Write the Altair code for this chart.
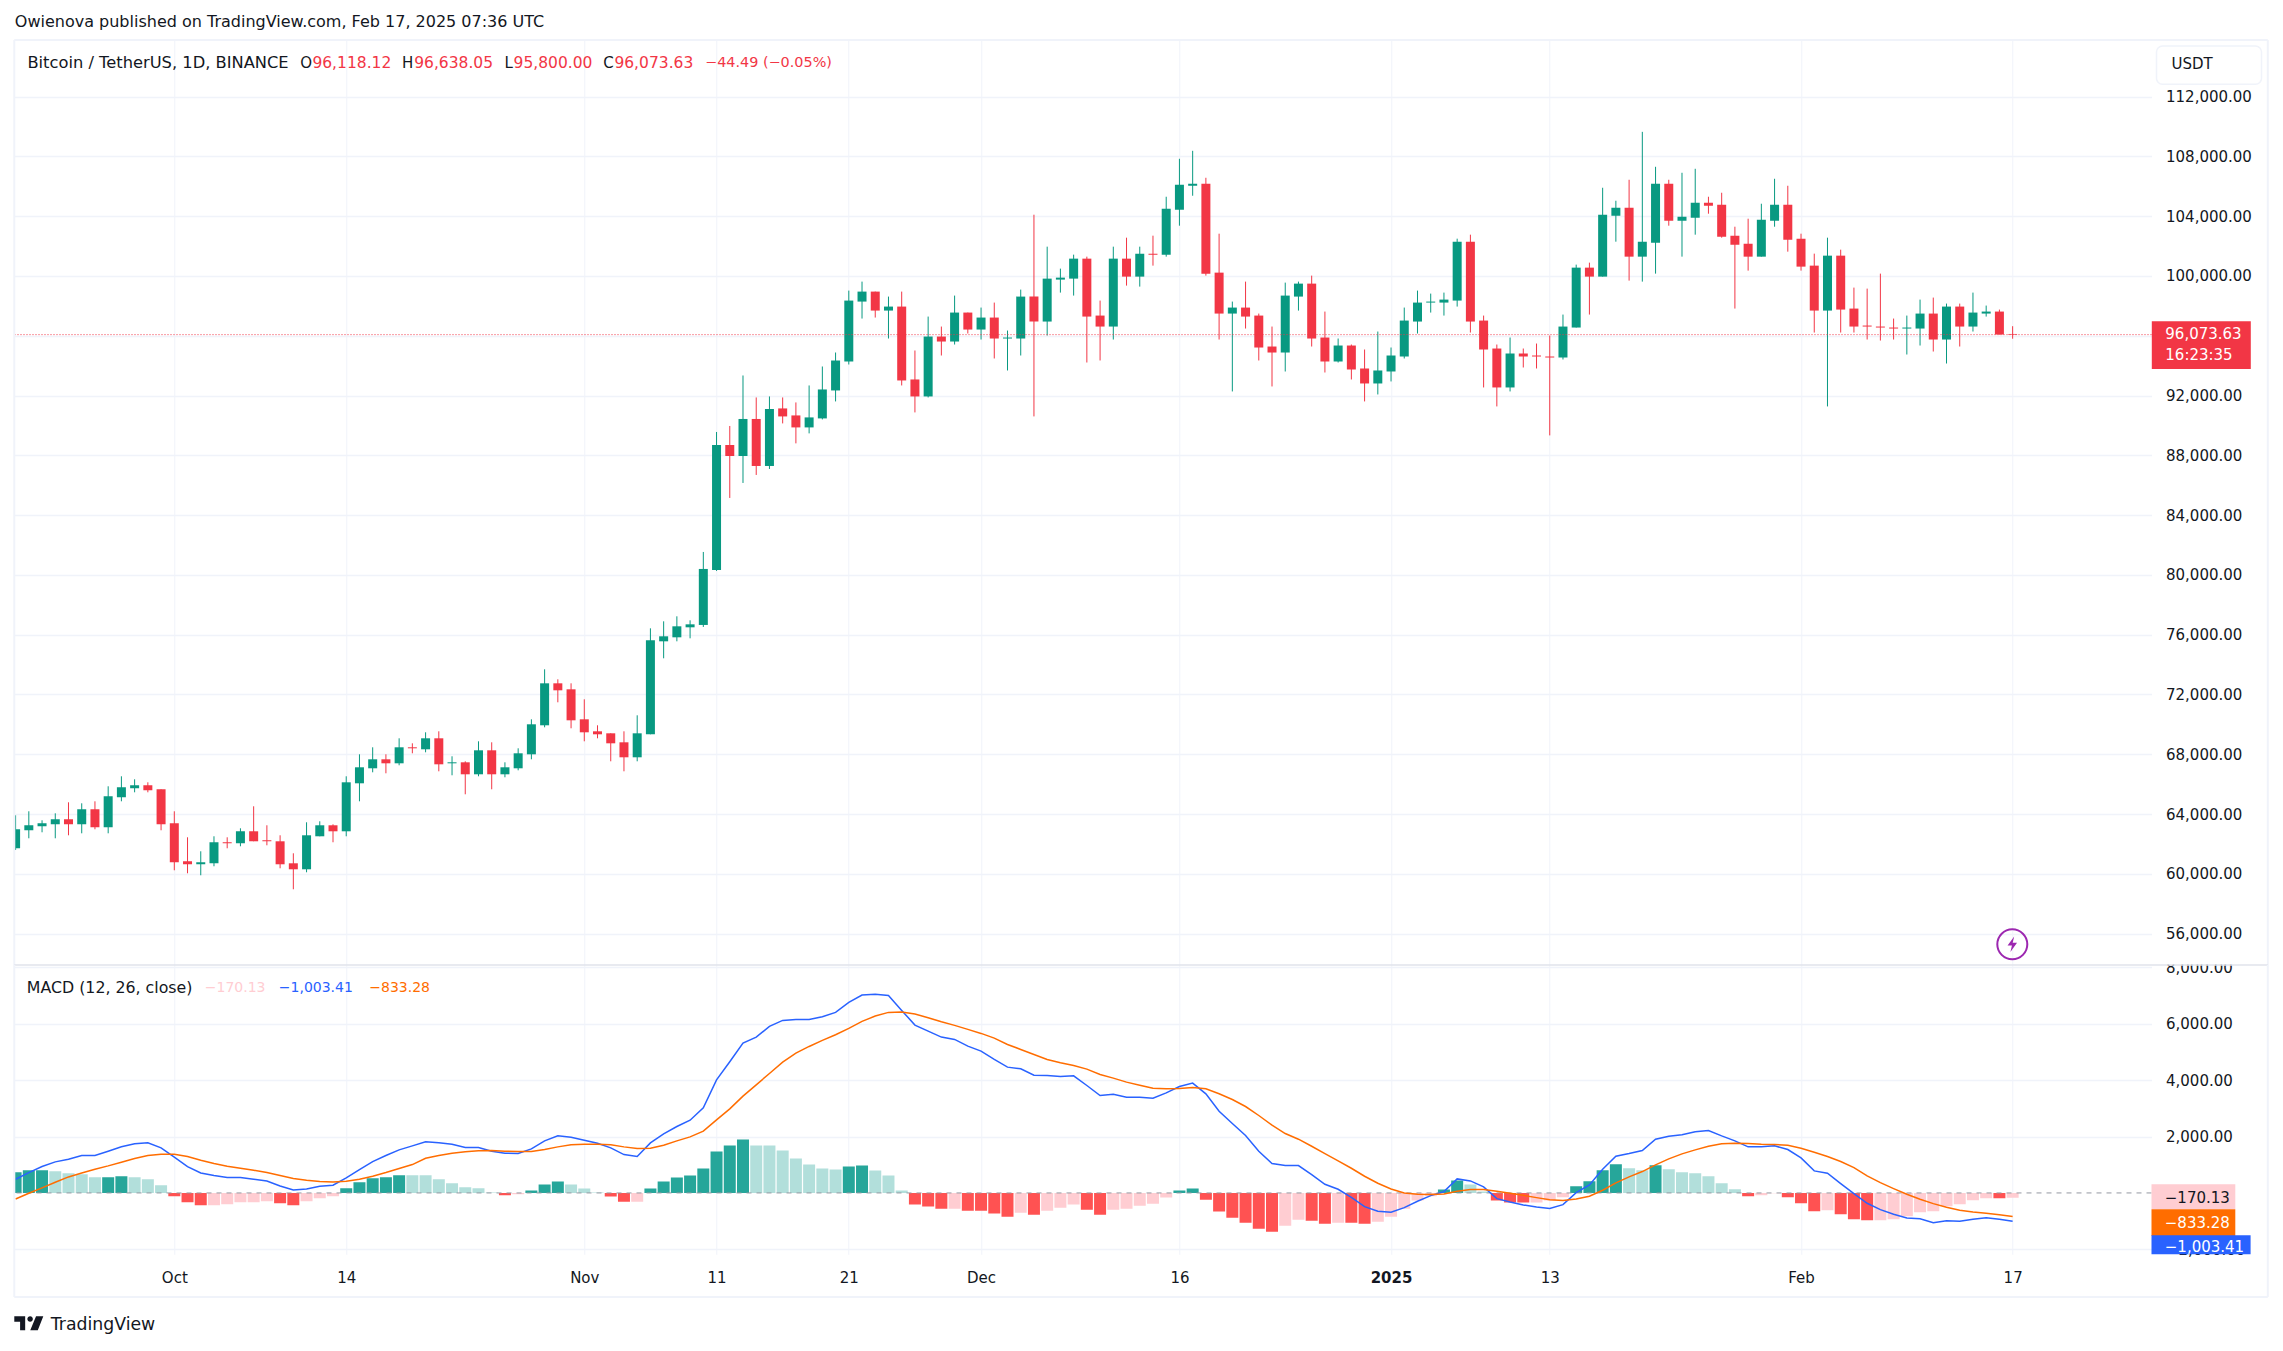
import altair as alt
import pandas as pd

# ---------- daily candles, 2024-09-19 .. 2025-02-17 ----------
opens = [61706,62910,63178,63311,63646,63311,64315,63111,65118,65720,65921,65653,
 63378,60836,60636,60702,62108,62040,62843,62241,62174,60702,60301,62509,63245,62843,66054,67058,67660,67392,68463,68329,69065,67392,67459,66657,68262,66657,67058,67994,69935,72744,72343,
 70336,69533,69399,68797,67794,69333,75554,75822,76491,76649,80329,88691,87955,90431,87286,91136,90668,89866,90468,92339,94276,98285,98953,97683,97951,93074,91938,95946,95612,97550,
 96414,97216,95813,95813,98619,96949,99755,99821,101158,97349,96614,101158,99955,101492,101425,104431,106035,106168,100222,97483,97884,97349,95278,94877,98619,99487,95880,94276,95345,93808,92806,
 93608,94610,96949,98218,98218,98352,102293,97015,95144,92539,94811,94677,94610,94543,96548,100556,99955,104030,104565,101291,102227,106168,103696,103897,104899,104765,102694,102160,101291,103696,104765,
 102494,100690,97683,101358,97817,96681,96614,96548,96481,96481,97483,95746,97951,96614,97483,97617,96118.12]
highs = [63914,64181,63579,64047,64783,64716,64850,65854,66523,66322,66121,65653,
 64181,62442,61505,62509,62442,63044,64516,63245,62576,61371,63445,63512,63311,66523,67994,68463,67994,69065,68730,69466,69533,67861,67526,68864,68797,67459,68396,70336,73681,73012,72744,
 71674,69935,69399,69533,70604,76424,76892,77227,76959,81533,89561,89962,93341,91871,91938,91871,91537,92673,93942,94878,99020,99621,98953,98619,98953,95011,97282,96614,98686,97550,
 97884,98218,96347,99087,104097,101959,100490,101425,101291,98352,101959,102561,101959,102694,105300,107839,108373,106569,102828,98285,99621,97483,96614,99554,99621,100022,97617,95813,95412,95078,96281,
 95212,97884,99020,98819,98886,102494,102761,97349,95412,95880,95144,95478,96013,97416,100757,100890,105901,105032,106436,109642,107304,106436,106903,107170,105300,105567,103295,103830,104832,106502,106035,
 102828,101492,102561,101759,99220,99153,100155,97149,97349,98418,98552,98151,98151,98886,98018,97750,96638.05]
lows = [61594,62375,62776,62375,62576,62709,62977,62709,64850,65452,65452,62910,
 60234,60033,59900,60502,61706,61840,62174,61907,60368,58963,60100,62509,62108,62509,64850,66790,66723,67259,68061,68128,66857,66590,65319,66523,65653,66456,66924,67660,69801,71473,69734,
 68864,69065,67526,66857,67526,69333,74417,75554,75755,76516,80262,85146,86149,86685,87086,90134,88798,89466,90401,91604,94076,97149,97216,95813,92673,90869,91871,94677,95412,96149,
 95746,94477,93675,94677,90602,96013,98886,98686,94209,94343,95746,99354,99287,100690,101291,103362,105367,100022,95746,92272,96481,94343,92606,93608,97683,95278,93541,94209,93073,91604,92071,
 92940,94477,96147,97550,97349,97951,96214,92539,91270,92272,93875,93808,89332,94410,96548,97416,99955,102293,99688,99621,100155,103362,101291,102761,104164,102561,97817,100356,101291,103295,101625,
 100356,96214,91270,96214,96214,95746,95679,95746,94744,95345,94944,94142,95278,96281,97282,96080,95800]
closes = [62977,63245,63378,63646,63311,64315,63111,65185,65787,65921,65586,63311,
 60769,60636,60769,62108,62040,62843,62174,62174,60636,60301,62576,63245,62843,66121,67125,67660,67392,68463,68396,69065,67325,67459,66657,68262,66657,67125,68061,70002,72744,72276,70269,
 69466,69333,68730,67794,69399,75621,75889,76558,76691,80396,88691,87955,90431,87286,91100,90601,89866,90535,92405,94343,98352,98953,97683,97951,93007,91938,95946,95612,97550,96414,
 97216,95813,95880,98619,96949,99821,99888,101158,97282,96614,101158,99955,101492,101425,104498,106102,106168,100155,97483,97884,97282,95211,94877,98686,99487,95813,94276,95345,93741,92806,93675,
 94677,97015,98218,98285,98418,102293,96949,95078,92539,94811,94610,94610,94543,96614,100556,99955,104097,104565,101291,102293,106168,103696,103964,104899,104699,102627,102093,101291,103763,104765,102427,
 100623,97683,101358,97750,96614,96614,96548,96481,96548,97483,95746,97951,96614,97550,97617,96080,96073.63]

# ---------- MACD pane ----------
hist = [734,805,805,770,699,663,556,556,592,556,485,272,
 -118,-331,-438,-438,-403,-331,-331,-296,-367,-438,-296,-189,-118,166,379,521,556,628,628,628,485,343,201,166,12,-83,-47,83,296,402,296,
 154,12,-130,-308,-308,154,402,544,615,864,1467,1680,1893,1680,1680,1502,1218,1006,864,828,935,970,793,615,83,-414,-485,-556,-556,-627,
 -627,-733,-840,-698,-769,-627,-521,-414,-592,-769,-592,-556,-450,-379,-166,83,154,-237,-662,-875,-1053,-1266,-1372,-1159,-946,-982,-1088,-1053,-1053,-1088,-1017,
 -840,-556,-272,-118,118,438,296,47,-272,-343,-343,-343,-272,-154,237,414,805,1017,875,805,982,840,733,698,592,343,130,-118,-83,-12,-154,
 -367,-651,-615,-757,-935,-970,-970,-935,-828,-686,-651,-473,-402,-260,-189,-189,-170.13]
strong = [1,1,1,0,0,0,0,1,1,0,0,0,
 1,1,1,0,0,0,0,0,1,1,0,0,0,1,1,1,1,1,0,0,0,0,0,0,0,1,0,1,1,1,0,
 0,0,1,1,0,1,1,1,1,1,1,1,1,0,0,0,0,0,0,0,1,1,0,0,0,1,1,1,0,1,
 1,1,1,0,1,0,0,0,1,1,0,0,0,0,0,1,1,1,1,1,1,1,1,0,0,1,1,0,1,1,0,
 0,0,0,0,1,1,0,0,1,1,1,0,0,0,1,1,1,1,0,0,1,0,0,0,0,0,0,1,0,0,1,
 1,1,0,1,1,1,0,0,0,0,0,0,0,0,0,1,0]
macd = [485,722,935,1101,1196,1326,1326,1480,1634,1740,1776,1598,
 1267,935,710,616,545,545,485,426,249,107,142,237,272,533,829,1113,1326,1527,1669,1812,1776,1729,1610,1610,1480,1409,1397,1560,1846,2023,1976,
 1869,1763,1597,1361,1290,1775,2094,2354,2579,3017,4010,4649,5312,5525,5903,6116,6152,6152,6246,6400,6755,7015,7039,7003,6471,5951,5738,5525,5442,5205,
 5028,4732,4460,4401,4176,4164,4129,4152,3809,3454,3502,3395,3395,3360,3549,3774,3892,3514,2898,2461,2035,1479,1041,970,970,651,308,130,-154,-485,-651,
 -686,-521,-296,-95,47,497,426,213,-201,-319,-426,-497,-550,-414,12,284,840,1302,1397,1503,1906,2013,2060,2166,2214,2024,1847,1634,1634,1669,1539,
 1243,781,699,332,-24,-367,-592,-758,-888,-912,-1054,-983,-1006,-935,-876,-935,-1003.41]
signal = [-213,-12,178,379,568,710,841,959,1089,1220,1326,1373,
 1373,1291,1160,1042,947,876,805,722,616,509,450,403,391,414,485,592,722,864,1006,1231,1326,1409,1456,1492,1504,1480,1468,1470,1538,1633,1704,
 1727,1727,1704,1633,1573,1585,1692,1845,1987,2189,2591,2981,3431,3833,4235,4637,4957,5193,5406,5607,5832,6081,6270,6400,6412,6341,6211,6069,5939,5797,
 5655,5489,5264,5087,4910,4732,4614,4519,4389,4200,4070,3928,3821,3715,3691,3703,3738,3691,3514,3312,3064,2745,2401,2106,1905,1656,1396,1136,875,592,343,
 142,0,-47,-59,-35,59,118,118,59,-12,-83,-166,-240,-272,-213,-118,95,355,568,758,995,1208,1385,1527,1658,1740,1764,1752,1729,1717,1693,
 1587,1444,1291,1113,900,604,367,154,-47,-225,-379,-509,-616,-675,-722,-769,-833.28]

tick_days = [12,25,43,53,63,73,88,104,116,135,151]
tick_labels = ["Oct","14","Nov","11","21","Dec","16","2025","13","Feb","17"]
price_ticks = list(range(56000,112001,4000))
macd_ticks = [8000,6000,4000,2000,-2000]
last_price = 96073.63

# ---------- geometry of the two panes ----------
L, R, T, DIV, B = 14.5, 2151.7, 40.7, 965.7, 1255.0
FRAME_R, FRAME_B = 2268.0, 1297.7
W = R - L
H1 = DIV - T
H2 = B - DIV
x_dom = [-0.098, 161.5]
p_dom = [53897, 115787]
m_dom = [-2175, 8080]

FONT = "DejaVu Sans"
INK = "#131722"
GRID = "#F0F3FA"
GREEN, RED = "#089981", "#F23645"

n = len(opens)
df = pd.DataFrame({"i": list(range(n)), "open": opens, "high": highs, "low": lows, "close": closes,
                   "hist": hist, "strong": strong, "macd": macd, "signal": signal})
df["dir"] = ["up" if c >= o else "down" for o, c in zip(opens, closes)]
df["hcol"] = [("up" if h >= 0 else "down") + ("1" if s else "0") for h, s in zip(hist, strong)]
one = pd.DataFrame({"a": [0]})

lab_expr = " : ".join(f"datum.value=={d} ? '{t}'" for d, t in zip(tick_days, tick_labels)) + " : ''"
x_sc = alt.Scale(domain=x_dom, nice=False, zero=False, padding=0)
p_sc = alt.Scale(domain=p_dom, nice=False, zero=False)
m_sc = alt.Scale(domain=m_dom, nice=False, zero=False)
candle_col = alt.Color("dir:N", scale=alt.Scale(domain=["up", "down"], range=[GREEN, RED]), legend=None)

def yaxis(values):
    return alt.Axis(orient="right", values=values, format=",.2f", title=None, domain=False, ticks=False,
                    grid=True, gridColor=GRID, gridWidth=1.3, labelFont=FONT, labelFontSize=15, labelColor=INK,
                    labelPadding=14, labelAlign="left", labelBaseline="middle", labelFlush=False, labelOverlap=False)

x_top = alt.Axis(values=tick_days, labels=False, ticks=False, domain=False, title=None, grid=True,
                 gridColor=GRID, gridWidth=1)
x_bot = alt.Axis(values=tick_days, labelExpr=lab_expr, ticks=False, domain=False, title=None, grid=True,
                 gridColor=GRID, gridWidth=1, labelFont=FONT, labelFontSize=15, labelColor=INK, labelPadding=23,
                 labelFontWeight=alt.expr("datum.value==104 ? 'bold' : 'normal'"), labelAngle=0,
                 labelOverlap=False, labelFlush=False, labelBaseline="middle")
p_axis = yaxis(price_ticks)
m_axis = yaxis(macd_ticks)

def XT(): return alt.X("i:Q", scale=x_sc, axis=x_top)
def XB(): return alt.X("i:Q", scale=x_sc, axis=x_bot)
def YP(f): return alt.Y(f, scale=p_sc, axis=p_axis)
def YM(f, **kw): return alt.Y(f, scale=m_sc, axis=m_axis, **kw)

def txt(s, x, y, color=INK, size=15, org=T, align="left", weight="normal"):
    return alt.Chart(one).mark_text(font=FONT, fontSize=size, color=color, align=align, baseline="middle",
                                    fontWeight=weight).encode(
        x=alt.value(x - L), y=alt.value(y - org), text=alt.value(s))

def box(x1, y1, x2, y2, fill, org=T, stroke=None, radius=0):
    kw = {"color": fill}
    if stroke:
        kw.update(stroke=stroke, strokeWidth=1.5)
    if radius:
        kw["cornerRadius"] = radius
    return alt.Chart(one).mark_rect(**kw).encode(
        x=alt.value(x1 - L), x2=alt.value(x2 - L), y=alt.value(y1 - org), y2=alt.value(y2 - org))

def hline(x1, x2, y, color, org, width=2):
    return alt.Chart(one).mark_rule(color=color, strokeWidth=width).encode(
        x=alt.value(x1 - L), x2=alt.value(x2 - L), y=alt.value(y - org))

def vline(x, y1, y2, color, org, width=2):
    return alt.Chart(one).mark_rule(color=color, strokeWidth=width).encode(
        x=alt.value(x - L), y=alt.value(y1 - org), y2=alt.value(y2 - org))

# ---------- price pane ----------
wicks = alt.Chart(df).mark_rule(strokeWidth=1, clip=True).encode(x=XT(), y=YP("low:Q"), y2="high:Q", color=candle_col)
bodies = alt.Chart(df).mark_bar(size=9, clip=True).encode(x=XT(), y=YP("open:Q"), y2="close:Q", color=candle_col)
price_line = alt.Chart(pd.DataFrame({"p": [last_price]})).mark_rule(color=RED, strokeWidth=1, strokeDash=[1, 2]).encode(
    y=YP("p:Q"))

BOLT = "M0.15,-0.62 L-0.38,0.1 L-0.03,0.1 L-0.15,0.62 L0.38,-0.12 L0.03,-0.12 Z"
bolt_ring = alt.Chart(one).mark_point(shape="circle", size=900, filled=False, color="#9C27B0", strokeWidth=2, opacity=1).encode(
    x=alt.value(2012.5 - L), y=alt.value(945 - T))
bolt = alt.Chart(one).mark_point(shape=BOLT, size=620, filled=True, color="#9C27B0", opacity=1).encode(
    x=alt.value(2012.5 - L), y=alt.value(945 - T))

top_layers = [
    wicks, bodies, price_line, bolt_ring, bolt,
    hline(L, FRAME_R, T, GRID, T), vline(L, T, DIV, GRID, T), vline(FRAME_R, T, DIV, GRID, T),
    txt("Owienova published on TradingView.com, Feb 17, 2025 07:36 UTC", 15, 22.2, size=16),
    txt("Bitcoin / TetherUS, 1D, BINANCE", 27.6, 64, size=16.3),
    txt("O", 300.5, 64), txt("96,118.12", 312.6, 64, RED, size=15.5),
    txt("H", 402.3, 64), txt("96,638.05", 414.4, 64, RED, size=15.5),
    txt("L", 504.6, 64), txt("95,800.00", 513.8, 64, RED, size=15.5),
    txt("C", 603.5, 64), txt("96,073.63", 614.6, 64, RED, size=15.5),
    txt("\u221244.49 (\u22120.05%)", 705.3, 64, RED, size=14.4),
    box(2156.7, 46.7, 2261.7, 85, "#FFFFFF", stroke=GRID, radius=6),
    txt("USDT", 2171.7, 65),
    box(2152, 322, 2251, 369.7, RED),
    txt("96,073.63", 2165.5, 335, "#FFFFFF"),
    txt("16:23:35", 2165.5, 355.7, "#FFFFFF"),
]
top = alt.layer(*top_layers).resolve_scale(color="independent").properties(width=W, height=H1)

# ---------- MACD pane ----------
bars = alt.Chart(df).mark_bar(size=12, clip=True).encode(
    x=XB(), y=YM("hist:Q", stack=None),
    color=alt.Color("hcol:N", legend=None, scale=alt.Scale(
        domain=["up1", "up0", "down1", "down0"], range=["#26A69A", "#B2DFDB", "#FF5252", "#FFCDD2"])))
zero_line = alt.Chart(pd.DataFrame({"z": [0]})).mark_rule(color="#9598A1", strokeWidth=1, strokeDash=[5, 5]).encode(
    y=YM("z:Q"))
macd_line = alt.Chart(df).mark_line(color="#2962FF", strokeWidth=1.5).encode(x=XB(), y=YM("macd:Q"))
signal_line = alt.Chart(df).mark_line(color="#FF6D00", strokeWidth=1.5).encode(x=XB(), y=YM("signal:Q"))

LOGO = ("M-1,-0.48 L-0.25,-0.48 L-0.25,0.48 L-0.6,0.48 L-0.6,-0.1 L-1,-0.1 Z "
        "M0.5,-0.48 L1,-0.48 L0.62,0.48 L0.1,0.48 Z "
        "M0.28,-0.29 A0.19,0.19 0 1 1 -0.1,-0.29 A0.19,0.19 0 1 1 0.28,-0.29 Z")
logo = alt.Chart(one).mark_point(shape=LOGO, size=841, filled=True, color=INK, opacity=1).encode(
    x=alt.value(29 - L), y=alt.value(1324 - DIV))

bot_layers = [
    bars, zero_line, macd_line, signal_line,
    box(R + 1, DIV - 12, R + 115, DIV - 0.5, "#FFFFFF", org=DIV),
    hline(L, FRAME_R, DIV, "#E0E3EB", DIV, 1.5),
    vline(L, DIV, FRAME_B, GRID, DIV), vline(FRAME_R, DIV, FRAME_B, GRID, DIV),
    hline(L, FRAME_R, FRAME_B, GRID, DIV),
    txt("MACD (12, 26, close)", 27, 989, org=DIV, size=15.8),
    txt("\u2212170.13", 205, 989, "#FFCDD2", org=DIV, size=14),
    txt("\u22121,003.41", 279, 989, "#2962FF", org=DIV, size=14),
    txt("\u2212833.28", 369.5, 989, "#FF6D00", org=DIV, size=14),
    box(2151.7, 1185, 2235.5, 1210, "#FFCDD2", org=DIV),
    txt("\u2212170.13", 2165, 1199, org=DIV),
    box(2151.7, 1210, 2235.5, 1236.7, "#FF6D00", org=DIV),
    txt("\u2212833.28", 2165, 1224, "#FFFFFF", org=DIV),
    box(2151.7, 1236, 2250.8, 1255, "#2962FF", org=DIV),
    txt("\u22121,003.41", 2165, 1248, "#FFFFFF", org=DIV),
    logo,
    txt("TradingView", 51, 1326, org=DIV, size=17.3),
]
bot = alt.layer(*bot_layers).resolve_scale(color="independent").properties(width=W, height=H2)

chart = alt.vconcat(top, bot, spacing=0, bounds="flush").properties(
    padding={"left": 4.3, "top": 5, "right": 5, "bottom": 5}, background="white"
).configure_view(strokeWidth=0)

chart.save("out.html", embed_options={"renderer": "svg", "actions": False})
